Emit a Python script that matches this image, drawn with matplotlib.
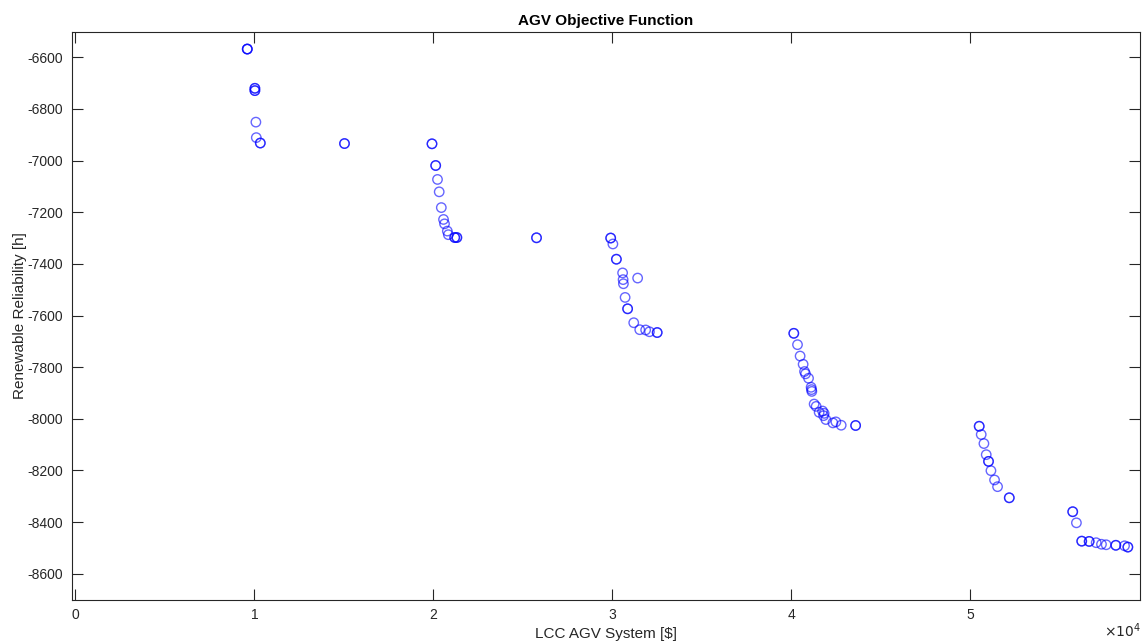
import matplotlib
matplotlib.use("Agg")
import matplotlib.pyplot as plt
import numpy as np

plt.rcParams['font.family'] = ['Liberation Sans', 'DejaVu Sans']
plt.rcParams['axes.unicode_minus'] = False

# LCC AGV System [$]
lcc = [9597, 10022, 10022, 10078, 10101, 10325, 15028, 19916,
       20123, 20224, 20319, 20437, 20560, 20616, 20773, 20829, 21187, 21305, 25756,
       29899, 30022, 30218, 30565, 30593, 30610, 31405, 30705, 30845, 31187, 31523,
       31853, 32066, 32497,
       40129, 40336, 40482, 40650, 40728, 40784, 40952, 41097, 41120, 41137, 41265,
       41377, 41545, 41736, 41825, 41792, 41921, 42313, 42480, 42777, 43583,
       50487, 50599, 50750, 50879, 51008, 51142, 51344, 51512, 52167,
       55711, 55918, 56215, 56630, 57021, 57318, 57581, 58119, 58606, 58791]

# Renewable Reliability [h]
reliability = [-6568, -6720, -6729, -6851, -6911, -6932, -6934, -6935,
               -7019, -7073, -7121, -7182, -7228, -7245, -7273, -7287, -7298, -7298, -7299,
               -7300, -7323, -7382, -7435, -7461, -7477, -7455, -7530, -7574, -7628, -7655,
               -7656, -7663, -7666,
               -7669, -7713, -7757, -7789, -7817, -7826, -7843, -7878, -7887, -7894, -7943,
               -7952, -7975, -7970, -7979, -7988, -8003, -8016, -8012, -8025, -8026,
               -8029, -8061, -8096, -8139, -8165, -8201, -8237, -8263, -8306,
               -8360, -8403, -8474, -8475, -8480, -8486, -8488, -8490, -8492, -8497]

# how many solutions sit on top of each other (bold circles)
repeats = [3, 2, 2, 1, 1, 2, 2, 2,
           2, 1, 1, 1, 1, 1, 1, 1, 2, 2, 2,
           2, 1, 2, 1, 1, 1, 1, 1, 2, 1, 1,
           1, 1, 2,
           2, 1, 1, 1, 1, 1, 1, 1, 1, 1, 1,
           1, 1, 1, 1, 1, 1, 1, 1, 1, 2,
           2, 1, 1, 1, 2, 1, 1, 1, 2,
           2, 1, 2, 2, 1, 1, 1, 2, 1, 2]

x = np.repeat(lcc, repeats)
y = np.repeat(reliability, repeats)

fig = plt.figure(figsize=(11.46, 6.41), dpi=100)
ax = fig.add_axes([71.5 / 1146, (641 - 599.5) / 641, (1140 - 71.5) / 1146, (599.5 - 31.5) / 641])

ax.scatter(x, y, s=46, facecolors='none', edgecolors='blue', linewidths=1.0, alpha=0.6)

ax.set_xlim(-223, 59470)
ax.set_ylim(-8700, -6500)
ax.set_xticks([0, 10000, 20000, 30000, 40000, 50000])
ax.set_xticklabels(['0', '1', '2', '3', '4', '5'])
ax.set_yticks(np.arange(-8600, -6599, 200))

for s in ax.spines.values():
    s.set_color('#262626')
    s.set_linewidth(0.8)
ax.tick_params(direction='in', length=8, width=0.8, colors='#262626',
               labelsize=10, top=True, right=True, pad=6)

ax.set_title('AGV Objective Function', fontsize=11, fontweight='bold', color='black', pad=5)
ax.set_xlabel('LCC AGV System [\\$]', fontsize=11, color='#262626', labelpad=4)
ax.set_ylabel('Renewable Reliability [h]', fontsize=11, color='#262626', labelpad=0)
fig.text(1141 / 1146, 1 / 641, r'$\times10^{4}$', ha='right', va='bottom',
         fontsize=10, color='#262626')

fig.savefig('out.png', dpi=100)
